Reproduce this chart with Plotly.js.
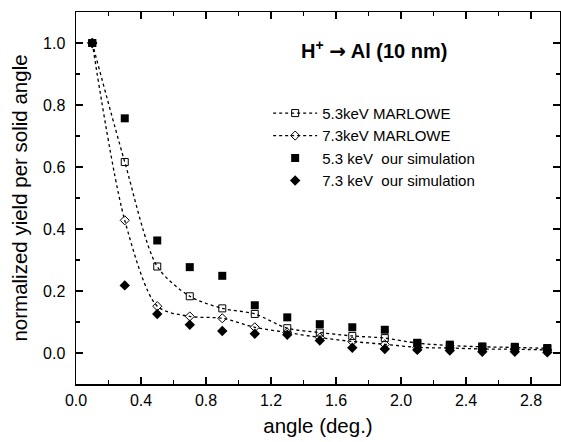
<!DOCTYPE html>
<html>
<head>
<meta charset="utf-8">
<script src="https://cdn.plot.ly/plotly-3.0.1.min.js"></script>
<style>html,body{margin:0;padding:0;background:#fff;}#chart{width:561px;height:442px;}</style>
</head>
<body>
<div id="chart"></div>
<script>
// angle (deg.)
const angle = [0.1, 0.3, 0.5, 0.7, 0.9, 1.1, 1.3, 1.5, 1.7, 1.9, 2.1, 2.3, 2.5, 2.7, 2.9];
// normalized yield per solid angle
const marlowe53 = [1.0, 0.616, 0.279, 0.183, 0.144, 0.126, 0.080, 0.066, 0.055, 0.048, 0.032, 0.024, 0.020, 0.018, 0.015];
const marlowe73 = [1.0, 0.428, 0.151, 0.118, 0.112, 0.083, 0.066, 0.050, 0.037, 0.028, 0.018, 0.016, 0.013, 0.012, 0.010];
const sim53 = [1.0, 0.757, 0.363, 0.277, 0.249, 0.154, 0.115, 0.093, 0.083, 0.075, 0.033, 0.027, 0.021, 0.020, 0.016];
const sim73 = [1.0, 0.218, 0.126, 0.091, 0.071, 0.062, 0.059, 0.040, 0.017, 0.013, 0.010, 0.008, 0.004, 0.004, 0.002];
const seriesNames = ['5.3keV MARLOWE', '7.3keV MARLOWE', '5.3 keV  our simulation', '7.3 keV  our simulation'];
const xTicks = [0.0, 0.4, 0.8, 1.2, 1.6, 2.0, 2.4, 2.8];
const xTickText = ['0.0', '0.4', '0.8', '1.2', '1.6', '2.0', '2.4', '2.8'];
const yTicks = [0.0, 0.2, 0.4, 0.6, 0.8, 1.0];
const yTickText = ['0.0', '0.2', '0.4', '0.6', '0.8', '1.0'];
const plotTitle = '<b>H<sup>+</sup> <span style="font-family:DejaVu Sans">\u2192</span> Al (10 nm)</b>';

const FONT = 'Liberation Sans, Arial, sans-serif';
const dotLine = {color: '#000', width: 1.3, dash: 'dot', shape: 'spline', smoothing: 0.8};

const traces = [
  {x: angle, y: marlowe53, name: seriesNames[0], mode: 'lines+markers', line: dotLine,
   marker: {symbol: 'square-open', size: 7, color: '#000', line: {width: 1, color: '#000'}}},
  {x: angle, y: marlowe73, name: seriesNames[1], mode: 'lines+markers', line: dotLine,
   marker: {symbol: 'diamond-open', size: 7, color: '#000', line: {width: 1, color: '#000'}}},
  {x: angle, y: sim53, name: seriesNames[2], mode: 'markers',
   marker: {symbol: 'square', size: 8, color: '#000'}},
  {x: angle, y: sim73, name: seriesNames[3], mode: 'markers',
   marker: {symbol: 'diamond', size: 8, color: '#000'}}
];

const axisCommon = {
  showgrid: false, zeroline: false, showline: true, linecolor: '#000', linewidth: 1.5,
  mirror: 'ticks', ticks: 'inside', ticklen: 7, tickwidth: 1.5, tickcolor: '#000',
  tickfont: {family: FONT, size: 16, color: '#000'}
};

const layout = {
  width: 561, height: 442,
  margin: {l: 76, r: 1, t: 12, b: 58},
  paper_bgcolor: '#fff', plot_bgcolor: '#fff',
  font: {family: FONT, color: '#000'},
  showlegend: true,
  legend: {x: 0.397, y: 0.772, xanchor: 'left', yanchor: 'top', bgcolor: 'rgba(0,0,0,0)',
           font: {family: FONT, size: 15, color: '#000'}, itemwidth: 44, tracegroupgap: 0},
  xaxis: Object.assign({}, axisCommon, {
    range: [0, 2.978], tickvals: xTicks, ticktext: xTickText, ticklabelstandoff: 1,
    minor: {dtick: 0.2, tick0: 0, ticks: 'inside', ticklen: 4, tickwidth: 1.5, tickcolor: '#000'},
    title: {text: 'angle (deg.)', font: {family: FONT, size: 20.5, color: '#000'}, standoff: 11}
  }),
  yaxis: Object.assign({}, axisCommon, {
    range: [-0.1, 1.1], tickvals: yTicks, ticktext: yTickText, ticklabelstandoff: 6,
    minor: {dtick: 0.1, tick0: 0, ticks: 'inside', ticklen: 4, tickwidth: 1.5, tickcolor: '#000'},
    title: {text: 'normalized yield per solid angle', font: {family: FONT, size: 20.5, color: '#000'}, standoff: 10}
  }),
  annotations: [{
    text: plotTitle, xref: 'paper', yref: 'paper', x: 0.615, y: 0.898,
    xanchor: 'center', yanchor: 'middle', showarrow: false,
    font: {family: FONT, size: 20, color: '#000'}
  }]
};

Plotly.newPlot('chart', traces, layout, {staticPlot: true, displayModeBar: false});
</script>
</body>
</html>
